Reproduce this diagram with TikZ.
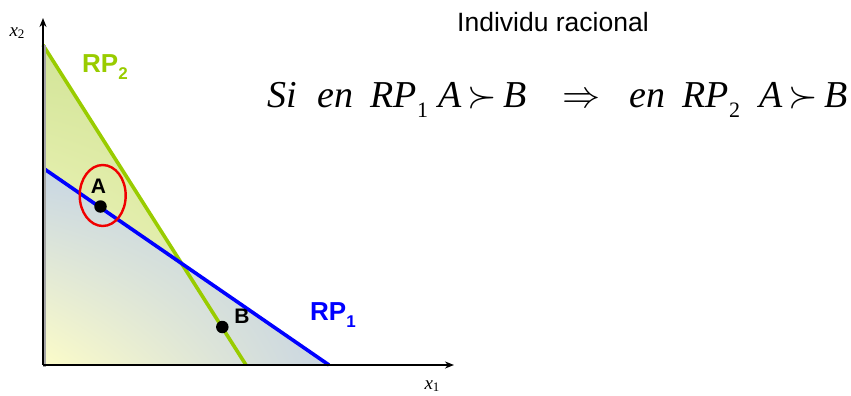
\RequirePackage{fix-cm}
\documentclass[tikz,border=0pt]{standalone}
\usepackage{fontspec}
\setmainfont{Liberation Serif}
\newfontfamily\arial{Liberation Sans}
\usetikzlibrary{arrows.meta,shapes.geometric,shadings}
\definecolor{lime}{RGB}{153,204,0}
\definecolor{pblue}{RGB}{0,0,255}
\definecolor{pred}{RGB}{240,0,0}
\definecolor{gtop}{RGB}{210,228,152}
\definecolor{gbot}{RGB}{224,236,172}
\definecolor{yel}{RGB}{252,252,200}
\definecolor{bul}{RGB}{200,214,228}
\definecolor{bur}{RGB}{192,208,228}
\definecolor{blr}{RGB}{202,214,226}
\tikzset{
  axisline/.style={line width=2.4pt, black, -{Stealth[length=9pt,width=7pt]}},
  budget/.style={line width=3.6pt},
  sanslab/.style={font=\arial\bfseries\fontsize{26}{28}\selectfont},
  ptlab/.style={font=\arial\bfseries\fontsize{21}{23}\selectfont, inner sep=0pt},
  dot/.style={circle, fill=black, inner sep=0pt, minimum size=12.5pt},
  fml/.style={font=\itshape\fontsize{38}{40}\selectfont, anchor=base west, inner sep=0pt},
  axlab/.style={font=\itshape\fontsize{19}{21}\selectfont, inner sep=0pt}
}
\newcommand{\fsub}[1]{\kern0.5pt\raisebox{-10pt}{\upshape\fontsize{22}{24}\selectfont #1}}
\newcommand{\lsub}[1]{\raisebox{-7pt}{\fontsize{17}{19}\selectfont #1}}
\begin{document}
\begin{tikzpicture}[x=1pt,y=-1pt]
\useasboundingbox (0,0) rectangle (851,396);
\coordinate (O) at (43,365);
\coordinate (Y) at (43,18);
\coordinate (X) at (454,365);
\coordinate (g1) at (43,45);
\coordinate (g2) at (246,365);
\coordinate (b1) at (43,168);
\coordinate (b2) at (329,365);
% shaded regions
\shade[upper left=gtop, upper right=gtop, lower left=yel, lower right=gbot] (g1) -- (O) -- (g2) -- cycle;
\shade[upper left=bul, upper right=bur, lower left=yel, lower right=blr] (b1) -- (O) -- (b2) -- cycle;
% budget lines
\draw[budget, lime] (g1) -- (g2);
\draw[budget, pblue] (b1) -- (b2);
% axes
\draw[line width=2.6pt, black!35] (44.5,366.5) -- (44.5,45);
\draw[axisline] (O) -- (Y);
\draw[axisline] (O) -- (X);
\node[axlab] (x2) at (17,33) {x\raisebox{-0.3ex}{\upshape\fontsize{13}{14}\selectfont 2}};
\node[axlab] (x1) at (432,386) {x\raisebox{-0.3ex}{\upshape\fontsize{13}{14}\selectfont 1}};
% points
\node[dot] (A) at (100.5,206.5) {};
\node[dot] (B) at (222.3,327) {};
\node[ptlab] (Alab) at (98.5,186.5) {A};
\node[ptlab] (Blab) at (242,316) {B};
\node[draw=pred, line width=2.4pt, ellipse, minimum width=46pt, minimum height=61pt, inner sep=0pt] (circA) at (102.7,195.5) {};
% labels
\node[sanslab, text=lime, anchor=base west, inner sep=0pt] (rp2) at (82,72) {RP\lsub{2}};
\node[sanslab, text=pblue, anchor=base west, inner sep=0pt] (rp1) at (310,320) {RP\lsub{1}};
\node[font=\arial\fontsize{26.5}{28}\selectfont, anchor=base west, inner sep=0pt] (title) at (457,32) {Individu racional};
% formula
\node[fml] (f1) at (267,107) {Si};
\node[fml] (f2) at (317,107) {en};
\node[fml] (f3) at (370,107) {RP\fsub{1}};
\node[fml] (f4) at (438,107) {A\,$\succ$\,B};
\node[fml] (f5) at (562,107) {$\Rightarrow$};
\node[fml] (f6) at (629,107) {en};
\node[fml] (f7) at (682,107) {RP\fsub{2}};
\node[fml] (f8) at (759,107) {A\,$\succ$\,B};
\end{tikzpicture}
\end{document}
